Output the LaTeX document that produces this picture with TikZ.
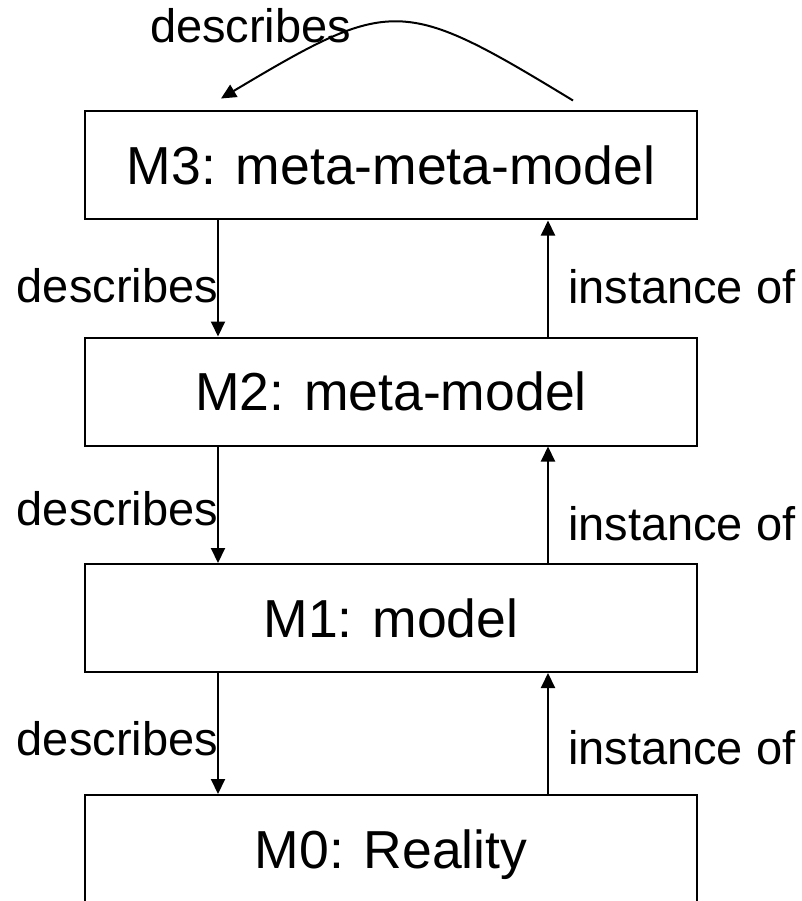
\documentclass[tikz,border=0pt]{standalone}
\usepackage{fontspec}
\setmainfont{Liberation Sans}
\usetikzlibrary{arrows.meta}
\newcommand\bw{612}
\newcommand\bh{108}
\newcommand\cx{391}
\newcommand\lx{173}
\newcommand\rx{157}

\begin{document}
\begin{tikzpicture}[x=1pt,y=-1pt,line width=2pt,>={Triangle[length=15pt,width=14pt]},
	level/.style={draw,minimum width=\bw pt,minimum height=\bh pt,font=\fontsize{53.5}{60}\selectfont,text height=38pt,text depth=0pt},
	lbl/.style={inner sep=0pt,font=\fontsize{47}{50}\selectfont}]
\useasboundingbox (0,0) rectangle (802,901);
\foreach \n/\y/\t in {3/165.5/M3: meta-meta-model, 2/391.5/M2: meta-model, 1/618/M1: model, 0/849/M0: Reality} {
	\node [level] (M\n) at (\cx,\y) {\t};
}
\foreach \a/\b/\yd/\yi in {3/2/302/303, 2/1/525/540, 1/0/755/764} {
	\draw [->] ([xshift=-\lx pt]M\a.south) -- ([xshift=-\lx pt]M\b.north);
	\draw [->] ([xshift=\rx pt]M\b.north) -- ([xshift=\rx pt]M\a.south);
	\node [lbl,anchor=base east] (d\a) at (219,\yd) {describes};
	\node [lbl,anchor=base west] (i\a) at (567,\yi) {instance of};
}
\node [lbl,anchor=base west] (dtop) at (149,43) {describes};
\coordinate (c0) at ([xshift=182pt,yshift=10pt]M3.north);
\coordinate (c1) at ([xshift=-170pt,yshift=12pt]M3.north);
\draw [->] (c0) .. controls +(-171,-104) and +(171,-102) .. (c1);
\end{tikzpicture}
\end{document}
